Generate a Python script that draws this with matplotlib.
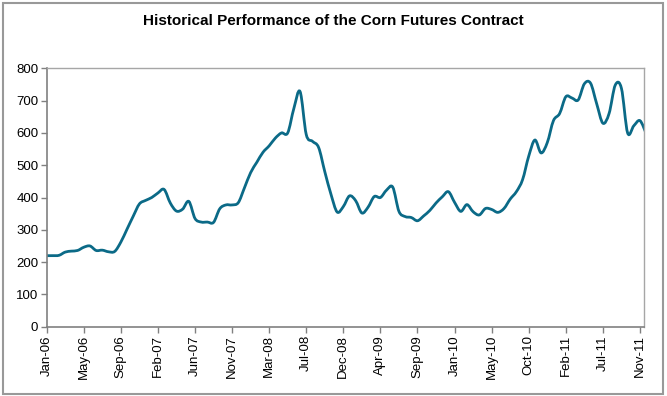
import matplotlib
matplotlib.use("Agg")
import matplotlib.pyplot as plt
from matplotlib.patches import Rectangle, PathPatch
from matplotlib.path import Path

plt.rcParams['font.family'] = ['Liberation Sans', 'DejaVu Sans']

# corn futures price, sampled 6 points per tick interval
prices = [220, 220, 221, 231, 234, 236, 246, 250, 236, 237,
          232, 233, 262, 302, 342, 380, 391, 400, 414, 425,
          383, 358, 364, 388, 335, 324, 324, 323, 365, 377,
          377, 384, 430, 477, 509, 540, 560, 584, 600, 600,
          676, 728, 595, 574, 555, 480, 410, 355, 372, 405,
          390, 352, 370, 403, 400, 423, 432, 357, 341, 338,
          328, 343, 360, 383, 402, 418, 385, 357, 378, 356,
          346, 366, 363, 354, 366, 395, 418, 455, 528, 578,
          538, 570, 638, 660, 712, 708, 702, 752, 754, 690,
          630, 660, 748, 738, 600, 622, 638, 598]

tick_labels = ['Jan-06', 'May-06', 'Sep-06', 'Feb-07', 'Jun-07', 'Nov-07',
               'Mar-08', 'Jul-08', 'Dec-08', 'Apr-09', 'Sep-09', 'Jan-10',
               'May-10', 'Oct-10', 'Feb-11', 'Jul-11', 'Nov-11']
pts_per_tick = 6


def smooth_path(xs, ys):
    # Excel-style smoothed line: cubic bezier segments through the points
    pts = list(zip(xs, ys))
    verts = [pts[0]]
    codes = [Path.MOVETO]
    n = len(pts)
    for i in range(n - 1):
        p0 = pts[max(i - 1, 0)]
        p1 = pts[i]
        p2 = pts[i + 1]
        p3 = pts[min(i + 2, n - 1)]
        c1 = (p1[0] + (p2[0] - p0[0]) / 6, p1[1] + (p2[1] - p0[1]) / 6)
        c2 = (p2[0] - (p3[0] - p1[0]) / 6, p2[1] - (p3[1] - p1[1]) / 6)
        verts += [c1, c2, p2]
        codes += [Path.CURVE4] * 3
    return Path(verts, codes)


fig = plt.figure(figsize=(6.67, 3.96), dpi=100)
ax = fig.add_axes([0.070, 0.175, 0.8955, 0.6525])

line = PathPatch(smooth_path(range(len(prices)), prices), fill=False,
                 edgecolor='#0b6a87', lw=2.0, joinstyle='round', capstyle='round')
ax.add_patch(line)

ax.set_xlim(0, 96.65)
ax.set_ylim(0, 800)
ax.set_yticks(range(0, 801, 100))
ax.set_xticks([i * pts_per_tick for i in range(len(tick_labels))])
ax.set_xticklabels(tick_labels, rotation=90)
ax.tick_params(axis='both', direction='out', length=4, width=1,
               color='#808080', labelsize=9.5, pad=2)

for side in ['left', 'bottom']:
    ax.spines[side].set_color('#808080')
    ax.spines[side].set_linewidth(1.2)
for side in ['top', 'right']:
    ax.spines[side].set_color('#a6a6a6')
    ax.spines[side].set_linewidth(1.0)

fig.text(0.5, 0.948, 'Historical Performance of the Corn Futures Contract',
         ha='center', va='center', fontsize=11, fontweight='bold')

fig.patches.append(Rectangle((2.5 / 667, 2 / 396), 660 / 667, 391.5 / 396,
                             transform=fig.transFigure, fill=False,
                             edgecolor='#999999', lw=1.5))

fig.savefig('out.png', dpi=100)
